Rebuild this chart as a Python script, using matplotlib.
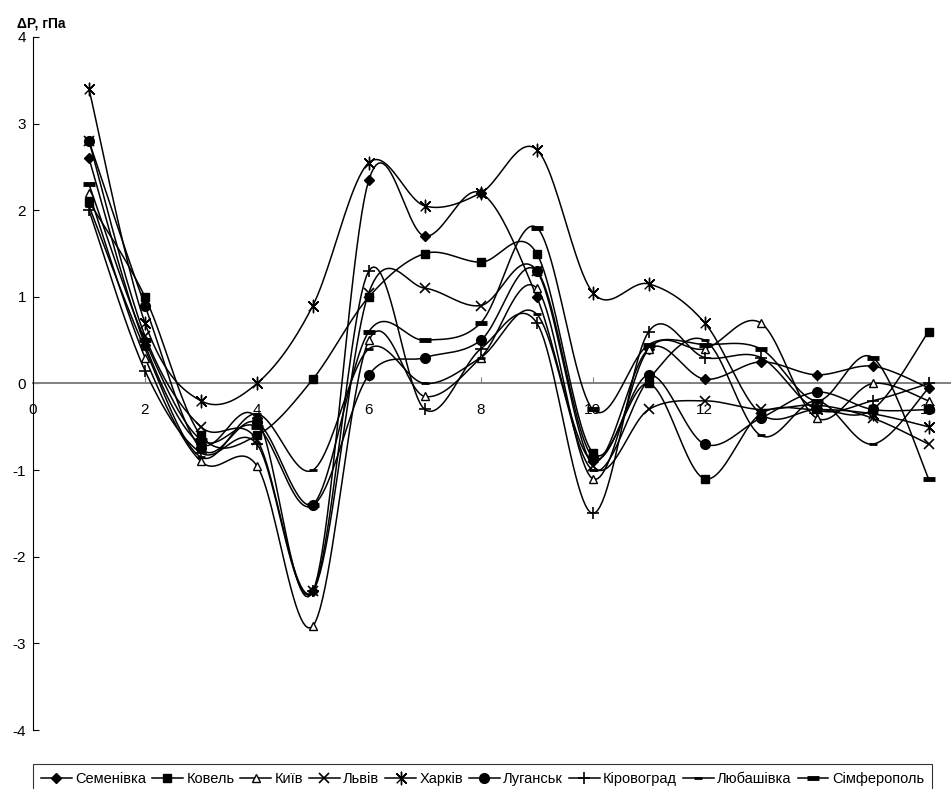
import numpy as np
import matplotlib.pyplot as plt

plt.rcParams['font.family'] = ['Liberation Sans', 'DejaVu Sans']
plt.rcParams['axes.unicode_minus'] = False

# місяці (номер точки) і зміна тиску по станціях, гПа
x = np.arange(1, 17)
semenivka = [2.6, 0.45, -0.7, -0.4, -2.4, 2.35, 1.7, 2.2, 1.0, -0.9, 0.4, 0.05, 0.25, 0.1, 0.2, -0.05]
kovel = [2.1, 1.0, -0.6, -0.6, 0.05, 1.0, 1.5, 1.4, 1.5, -0.8, 0.0, -1.1, -0.35, -0.3, -0.3, 0.6]
kyiv = [2.2, 0.3, -0.9, -0.95, -2.8, 0.5, -0.15, 0.3, 1.1, -1.1, 0.4, 0.4, 0.7, -0.4, 0.0, -0.2]
lviv = [2.8, 0.55, -0.5, -0.65, -2.4, 1.05, 1.1, 0.9, 1.3, -0.95, -0.3, -0.2, -0.3, -0.25, -0.4, -0.7]
kharkiv = [3.4, 0.7, -0.2, 0.0, 0.9, 2.55, 2.05, 2.2, 2.7, 1.05, 1.15, 0.7, -0.35, -0.3, -0.35, -0.5]
luhansk = [2.8, 0.9, -0.75, -0.45, -1.4, 0.1, 0.3, 0.5, 1.3, -0.85, 0.1, -0.7, -0.4, -0.1, -0.3, -0.3]
kirovohrad = [2.0, 0.15, -0.8, -0.7, -2.4, 1.3, -0.3, 0.4, 0.7, -1.5, 0.6, 0.3, 0.3, -0.3, -0.2, 0.0]
liubashivka = [2.05, 0.4, -0.85, -0.35, -1.0, 0.4, 0.0, 0.3, 0.8, -1.0, 0.05, 0.5, -0.6, -0.2, -0.7, -0.05]
simferopol = [2.3, 0.5, -0.65, -0.5, -1.4, 0.6, 0.5, 0.7, 1.8, -0.3, 0.45, 0.45, 0.4, -0.2, 0.3, -1.1]

names = ['Семенівка', 'Ковель', 'Київ', 'Львів', 'Харків', 'Луганськ',
         'Кіровоград', 'Любашівка', 'Сімферополь']
series = [semenivka, kovel, kyiv, lviv, kharkiv, luhansk, kirovohrad, liubashivka, simferopol]

asterisk = [(-1, -1), (1, 1), (0, 0), (-1, 1), (1, -1), (0, 0), (0, 1.3), (0, -1.3), (0, 0)]
styles = [
    dict(marker='D', ms=5, mfc='black'),
    dict(marker='s', ms=6, mfc='black'),
    dict(marker='^', ms=6, mfc='white'),
    dict(marker='x', ms=7, mew=1.2),
    dict(marker=asterisk, ms=9, mew=1.0),
    dict(marker='o', ms=7, mfc='black'),
    dict(marker='+', ms=9, mew=1.2),
    dict(marker='_', ms=6, mew=2.0),
    dict(marker='_', ms=9, mew=3.5),
]


def smooth(xs, ys, n=24):
    # згладжена лінія як у Excel: кубічні Безьє з дотичними Катмулла-Рома
    p = np.column_stack([xs, ys]).astype(float)
    t = np.linspace(0, 1, n)[:, None]
    parts = []
    for i in range(len(p) - 1):
        p0 = p[i - 1] if i > 0 else p[i]
        p3 = p[i + 2] if i + 2 < len(p) else p[i + 1]
        c1 = p[i] + (p[i + 1] - p0) / 6
        c2 = p[i + 1] - (p3 - p[i]) / 6
        seg = (1 - t) ** 3 * p[i] + 3 * (1 - t) ** 2 * t * c1 + 3 * (1 - t) * t ** 2 * c2 + t ** 3 * p[i + 1]
        parts.append(seg if i == 0 else seg[1:])
    return np.vstack(parts)


fig = plt.figure(figsize=(9.51, 7.89), dpi=100)
ax = fig.add_axes([33 / 951, 1 - 730 / 789, 1 - 33 / 951, (730 - 37) / 789])

handles = []
for name, ys, st in zip(names, series, styles):
    c = smooth(x, ys)
    ax.plot(c[:, 0], c[:, 1], color='black', lw=1.1, zorder=3)
    ax.plot(x, ys, ls='none', color='black', mec='black', zorder=4, **st)
    h, = ax.plot([], [], color='black', lw=1.1, mec='black', label=name, **st)
    handles.append(h)

ax.set_xlim(0, 16.4)
ax.set_ylim(-4, 4)
ax.set_yticks(np.arange(-4, 5, 1))
ax.set_xticks(np.arange(0, 17, 2))

for s in ['top', 'right']:
    ax.spines[s].set_visible(False)
ax.spines['left'].set_linewidth(0.8)
ax.spines['bottom'].set_position(('data', 0))
ax.spines['bottom'].set_color('#808080')
ax.spines['bottom'].set_linewidth(1.4)
ax.spines['bottom'].set_zorder(2)

ax.tick_params(axis='y', direction='in', length=4, width=0.8, labelsize=11, pad=5)
ax.tick_params(axis='x', direction='in', length=4, width=0.8, color='#808080',
               labelsize=11, pad=14)

fig.text(17 / 951, 1 - 23 / 789, 'ΔP, гПа', fontsize=10, fontweight='bold',
         ha='left', va='center')

leg = fig.legend(handles=handles, loc='upper left', ncol=9,
                 bbox_to_anchor=(33 / 951, 1 - 764 / 789), frameon=True,
                 fancybox=False, edgecolor='black', fontsize=10.5,
                 handlelength=2.1, handletextpad=0.25, columnspacing=0.4,
                 borderpad=0.55, borderaxespad=0)
leg.get_frame().set_linewidth(0.8)

fig.savefig('out.png', dpi=100)
